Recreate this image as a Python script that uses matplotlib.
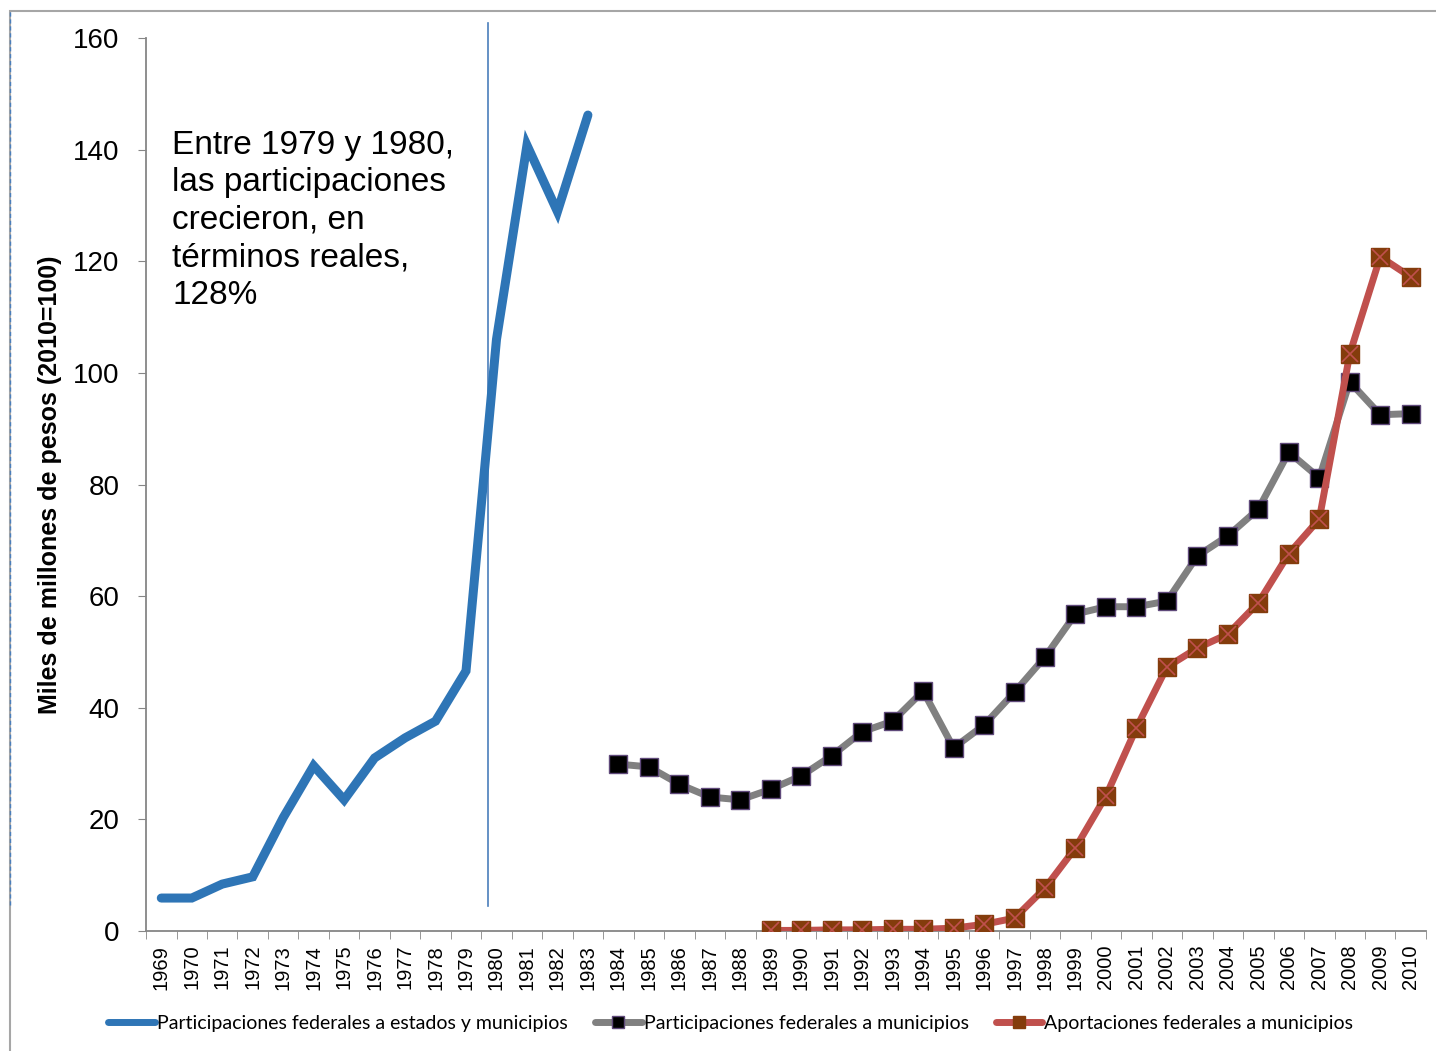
import matplotlib.pyplot as plt
import numpy as np
from matplotlib.lines import Line2D
from matplotlib.patches import Rectangle

years = list(range(1969, 2011))

# miles de millones de pesos (2010=100)
estados_years = list(range(1969, 1984))
estados_vals = [5.9, 5.9, 8.4, 9.7, 20.3, 29.6, 23.5, 31.0, 34.6, 37.6,
                46.6, 106.0, 140.8, 128.9, 146.2]

munic_years = list(range(1984, 2011))
munic_vals = [29.9, 29.4, 26.3, 24.0, 23.5, 25.4, 27.8, 31.4, 35.7, 37.6,
              43.0, 32.8, 36.9, 42.8, 49.1, 56.8, 58.1, 58.1, 59.1, 67.2,
              70.8, 75.6, 85.8, 81.2, 98.4, 92.5, 92.7]

aport_years = list(range(1989, 2011))
aport_vals = [0.1, 0.1, 0.2, 0.2, 0.3, 0.3, 0.5, 1.2, 2.3, 7.7, 14.9,
              24.2, 36.4, 47.3, 50.7, 53.2, 58.8, 67.6, 73.8, 103.4,
              120.8, 117.2]

labels = ["Participaciones federales a estados y municipios",
          "Participaciones federales a municipios",
          "Aportaciones federales a municipios"]

note = "Entre 1979 y 1980,\nlas participaciones\ncrecieron, en\ntérminos reales,\n128%"

blue = "#2E75B6"
gray = "#808080"
red = "#C0504D"
brown = "#843C0C"

plt.rcParams['font.family'] = ['Liberation Sans', 'DejaVu Sans']

fig = plt.figure(figsize=(14.36, 10.51), dpi=100)
ax = fig.add_axes([0.1017, 0.1142, 0.8913, 0.8496])

def idx(ys):
    return [years.index(y) for y in ys]

ax.plot(idx(estados_years), estados_vals, color=blue, lw=6.5,
        solid_capstyle='round', solid_joinstyle='miter', zorder=3)
ax.plot(idx(munic_years), munic_vals, color=gray, lw=5, marker='s',
        ms=13, mfc='black', mec='#5F497A', mew=1, zorder=3)
ax.plot(idx(aport_years), aport_vals, color=red, lw=5, marker='s',
        ms=13, mfc=brown, mec=brown, zorder=4)
ax.plot(idx(aport_years), aport_vals, ls='none', marker='x', ms=12,
        mec=red, mew=1.2, zorder=5)

# line marking the 1979-1980 jump
ax.plot([10.73, 10.73], [4.5, 162.7], color='#4A7EBB', lw=1.2,
        clip_on=False, zorder=2)

ax.text(0.0205, 0.897, note, transform=ax.transAxes, fontsize=24,
        va='top', ha='left', linespacing=1.27)

ax.set_xlim(-0.5, len(years) - 0.5)
ax.set_ylim(0, 160)
ax.set_yticks(np.arange(0, 161, 20))
ax.set_xticks(range(len(years)))
ax.set_xticklabels([str(y) for y in years], rotation=90, fontsize=14.5)
ax.set_xticks(np.arange(-0.5, len(years), 1), minor=True)
ax.tick_params(axis='x', which='major', length=0, pad=10)
ax.tick_params(axis='x', which='minor', length=6, color='#868686', direction='out')
ax.tick_params(axis='y', length=6, color='#868686', labelsize=20, pad=13)

for s in ['top', 'right']:
    ax.spines[s].set_visible(False)
for s in ['left', 'bottom']:
    ax.spines[s].set_color('#868686')
    ax.spines[s].set_linewidth(1.3)

ax.set_ylabel("Miles de millones de pesos (2010=100)", fontsize=18,
              fontweight='bold')
ax.yaxis.set_label_coords(-0.066, 0.5)

handles = [
    Line2D([], [], color=blue, lw=5, solid_capstyle='round'),
    Line2D([], [], color=gray, lw=5, solid_capstyle='round', marker='s',
           ms=9, mfc='black', mec='#5F497A'),
    Line2D([], [], color=red, lw=5, solid_capstyle='round', marker='s',
           ms=9, mfc=brown, mec=brown),
]
fig.legend(handles, labels, loc='center', bbox_to_anchor=(0.509, 0.026),
           ncol=3, frameon=False, handlelength=2.4, handletextpad=0.1,
           columnspacing=1.4, prop={'family': 'Lato', 'size': 14})

# outer frame of the original chart
fig.add_artist(Rectangle((10 / 1436, -0.1), 1.2, 1 - 11 / 1051 + 0.1,
                         transform=fig.transFigure, fill=False,
                         edgecolor='#A6A6A6', lw=1.5))
fig.add_artist(Line2D([10 / 1436, 10 / 1436], [1 - 905 / 1051, 1 - 11 / 1051],
                      transform=fig.transFigure, color='#4A7EBB', lw=1,
                      ls=(0, (3, 2))))

fig.savefig("out.png", dpi=100)
